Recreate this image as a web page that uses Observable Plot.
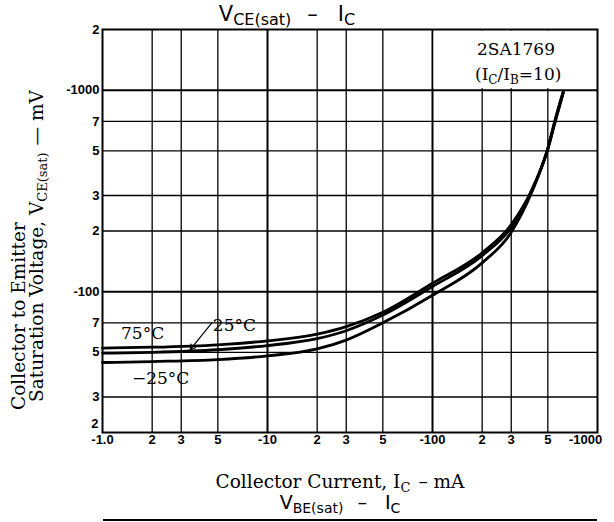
<!DOCTYPE html>
<html><head><meta charset="utf-8">
<script src="https://cdn.jsdelivr.net/npm/d3@7"></script>
<script src="https://cdn.jsdelivr.net/npm/@observablehq/plot@0.6"></script>
<style>body{margin:0;background:#fff} #chart{width:614px;height:522px}</style>
</head><body><div id="chart"></div>
<script>
// Collector current (mA, absolute value)
const currents = [1, 2, 5, 10, 20, 30, 50, 100, 200, 300, 400, 500, 550, 620];
// VCE(sat) (mV, absolute value) per ambient temperature
const t75  = [52.5, 53, 54.5, 57, 61.5, 67, 79, 110, 156, 215, 320, 510, 680, 970];
const t25  = [49.5, 50, 51.5, 54, 58.5, 64, 76.5, 106, 151, 208, 318, 512, 690, 975];
const tm25 = [44.5, 45, 46, 48, 52, 57.5, 70, 96, 139, 197, 312, 515, 700, 985];
const seriesNames = ["75°C", "25°C", "−25°C"];
const seriesValues = [t75, t25, tm25];

const xTicks = [1, 2, 3, 5, 10, 20, 30, 50, 100, 200, 300, 500, 1000];
const xTickLabels = ["-1.0", "2", "3", "5", "-10", "2", "3", "5", "-100", "2", "3", "5", "-1000"];
const yTicks = [20, 30, 50, 70, 100, 200, 300, 500, 700, 1000, 2000];
const yTickLabels = ["2", "3", "5", "7", "-100", "2", "3", "5", "7", "-1000", "2"];
const decadesX = [10, 100];
const decadesY = [100, 1000];

const rows = seriesNames.flatMap((name, k) => currents.map((c, i) => ({temp: name, ic: c, v: seriesValues[k][i]})));
const xLab = new Map(xTicks.map((d, i) => [d, xTickLabels[i]]));
const yLab = new Map(yTicks.map((d, i) => [d, yTickLabels[i]]));

const curveLabels = [
  {text: "75°C", ic: 1.75, v: 62},
  {text: "25°C", ic: 6.3, v: 68},
  {text: "−25°C", ic: 2.25, v: 37}
];
const arrow25 = [{x1: 4.6, y1: 70, x2: 3.4, y2: 51.5}];

const tickFont = {fontFamily: "Liberation Sans, Arial, sans-serif", fontWeight: "bold", fontSize: 13, fill: "#000"};

const plot = Plot.plot({
  width: 614, height: 522,
  marginLeft: 102, marginRight: 17, marginTop: 29, marginBottom: 90,
  style: {background: "#fff", color: "#000", overflow: "visible"},
  x: {type: "log", domain: [1, 1000], axis: null},
  y: {type: "log", domain: [20, 2000], axis: null},
  marks: [
    Plot.ruleX(xTicks.filter(d => d !== 1 && d !== 1000 && !decadesX.includes(d)), {stroke: "#000", strokeWidth: 1.3}),
    Plot.ruleX(decadesX, {stroke: "#000", strokeWidth: 2}),
    Plot.ruleY(yTicks.filter(d => d !== 20 && d !== 2000 && !decadesY.includes(d)), {stroke: "#000", strokeWidth: 1.3}),
    Plot.ruleY(decadesY, {stroke: "#000", strokeWidth: 2}),
    Plot.rect([{a: 100, b: 1000, c: 1000, d: 2000}], {x1: "a", x2: "b", y1: "c", y2: "d", fill: "#fff", insetLeft: 1.5, insetBottom: 1.5, insetTop: 1.5, insetRight: 1.5}),
    Plot.frame({stroke: "#000", strokeWidth: 2}),
    Plot.line(rows, {x: "ic", y: "v", z: "temp", curve: "monotone-x", stroke: "#000", strokeWidth: 2.8}),
    Plot.arrow(arrow25, {x1: "x1", y1: "y1", x2: "x2", y2: "y2", stroke: "#000", strokeWidth: 1.2, headLength: 7}),
    Plot.text(curveLabels, {x: "ic", y: "v", text: "text", fontFamily: "DejaVu Serif, serif", fontSize: 17, fill: "#000"}),
    // x tick labels
    Plot.text(xTicks.filter(d => d !== 1000), {x: d => d, text: d => xLab.get(d), frameAnchor: "bottom", dy: 11, ...tickFont}),
    Plot.text([1000], {x: d => d, text: d => xLab.get(d), frameAnchor: "bottom", dy: 11, dx: -12, ...tickFont}),
    // y tick labels
    Plot.text(yTicks.filter(d => d !== 20), {y: d => d, text: d => yLab.get(d), frameAnchor: "left", textAnchor: "end", dx: -3, ...tickFont}),
    Plot.text([20], {y: d => d, text: d => yLab.get(d), frameAnchor: "left", textAnchor: "end", dx: -4, dy: -9, ...tickFont})
  ]
});
document.getElementById("chart").appendChild(plot);

const svg = d3.select(plot);
const serif = "DejaVu Serif, serif";
const sans = "DejaVu Sans, sans-serif";
function rich(x, y, parts, opt = {}) {
  const t = svg.append("text").attr("x", x).attr("y", y)
    .attr("font-family", opt.family || serif).attr("fill", "#000")
    .attr("text-anchor", opt.anchor || "start");
  if (opt.transform) t.attr("transform", opt.transform);
  let shift = 0;
  for (const p of parts) {
    const s = t.append("tspan").text(p.t).attr("font-size", p.size || opt.size || 16);
    const want = p.sub ? (opt.subShift || 5) : 0;
    if (want !== shift) { s.attr("dy", want - shift); shift = want; }
    if (p.dx) s.attr("dx", p.dx);
  }
  return t;
}
// Title
rich(287, 21, [{t: "V", size: 21}, {t: "CE(sat)", size: 16, sub: true}, {t: "–", size: 21, dx: 16}, {t: "I", size: 21, dx: 20}, {t: "C", size: 16, sub: true}], {family: sans, anchor: "middle", subShift: 4});
// Device label
rich(477, 55, [{t: "2SA1769"}], {size: 17});
rich(475, 80, [{t: "(I"}, {t: "C", size: 12, sub: true}, {t: "/I"}, {t: "B", size: 12, sub: true}, {t: "=10)"}], {size: 17, subShift: 4});
// Y axis title
rich(25, 410, [{t: "Collector to Emitter"}], {size: 18.5, transform: "rotate(-90 25 410)"});
rich(43, 402, [{t: "Saturation Voltage, V"}, {t: "CE(sat)", size: 13, sub: true}, {t: "— mV", dx: 7}], {size: 18.5, transform: "rotate(-90 43 402)", subShift: 4});
// X axis title
rich(340, 488, [{t: "Collector Current, I"}, {t: "C", size: 13, sub: true}, {t: "– mA", dx: 8}], {size: 18.5, anchor: "middle", subShift: 4});
// Next chart heading
rich(340, 509, [{t: "V", size: 19}, {t: "BE(sat)", size: 14, sub: true}, {t: "–", size: 19, dx: 14}, {t: "I", size: 19, dx: 18}, {t: "C", size: 14, sub: true}], {family: sans, anchor: "middle", subShift: 4});
svg.append("line").attr("x1", 103).attr("x2", 597).attr("y1", 520).attr("y2", 520).attr("stroke", "#000").attr("stroke-width", 2);
</script></body></html>
